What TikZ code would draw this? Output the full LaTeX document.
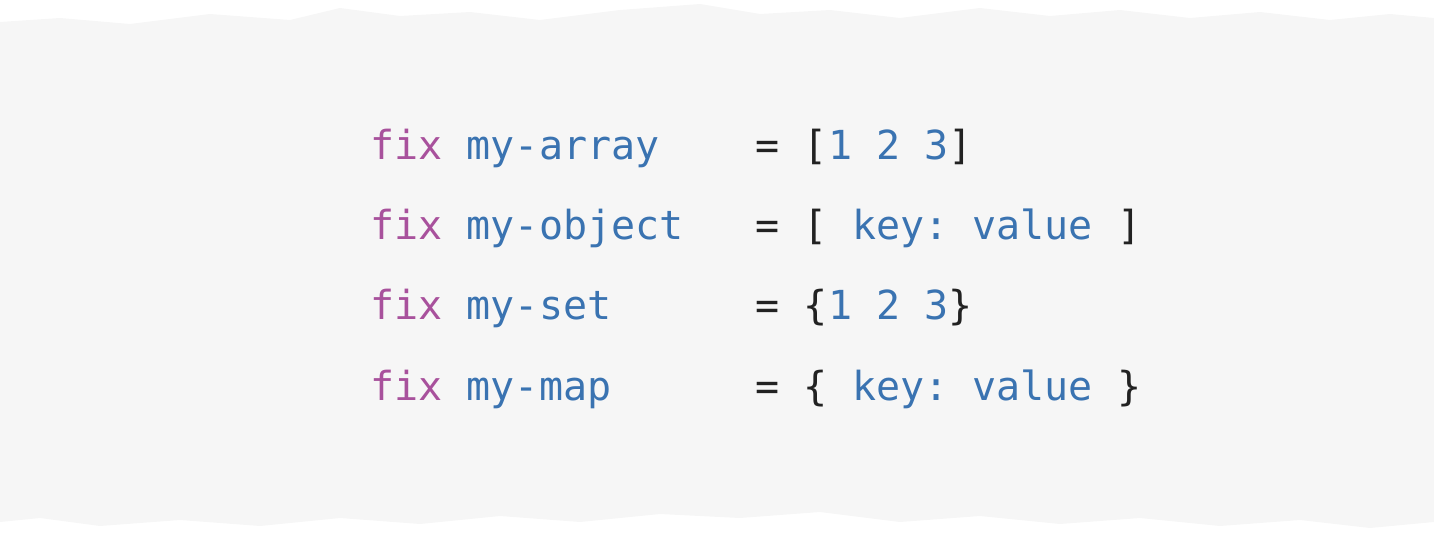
\documentclass[tikz,border=0pt]{standalone}
\usepackage{fontspec}
\setmonofont{DejaVu Sans Mono}
\definecolor{paper}{HTML}{F6F6F6}
\definecolor{kw}{HTML}{A8519C}
\definecolor{ident}{HTML}{3A73B1}
\definecolor{ink}{HTML}{222222}
\tikzset{every picture/.style={line width=0.75pt}}
\tikzset{
	code/.style={anchor=base west, inner sep=0pt, text=ink, font=\ttfamily\fontsize{30}{36}\selectfont},
}
\newcommand{\kwd}[1]{\textcolor{kw}{#1}}
\newcommand{\idn}[1]{\textcolor{ident}{#1}}

\begin{document}
\begin{tikzpicture}[x=0.75pt,y=0.75pt,yscale=-1,xscale=1]
	\useasboundingbox (0,0) rectangle (1434,534);

	%Torn paper background
	\fill [paper] (0,22) -- (60,18) -- (130,24) -- (210,14) -- (290,20) -- (340,8) -- (400,16) -- (470,12) -- (540,20) -- (620,10) -- (700,4) -- (760,14) -- (830,10) -- (900,18) -- (980,8) -- (1050,16) -- (1120,10) -- (1190,18) -- (1260,12) -- (1330,20) -- (1390,14) -- (1434,18)
		-- (1434,522) -- (1370,528) -- (1300,520) -- (1220,526) -- (1140,518) -- (1060,524) -- (980,516) -- (900,522) -- (820,512) -- (740,518) -- (660,514) -- (580,522) -- (500,516) -- (420,524) -- (340,518) -- (260,526) -- (180,520) -- (100,526) -- (40,518) -- (0,522) -- cycle;

	% Code lines
	\node [code] (array)  at (370,160) {\kwd{fix} \idn{my-array}\ \ \ \ = [\idn{1 2 3}]};
	\node [code] (object) at (370,240) {\kwd{fix} \idn{my-object}\ \ \ = [ \idn{key: value} ]};
	\node [code] (set)    at (370,320) {\kwd{fix} \idn{my-set}\ \ \ \ \ \ = \{\idn{1 2 3}\}};
	\node [code] (map)    at (370,400) {\kwd{fix} \idn{my-map}\ \ \ \ \ \ = \{ \idn{key: value} \}};
\end{tikzpicture}
\end{document}
